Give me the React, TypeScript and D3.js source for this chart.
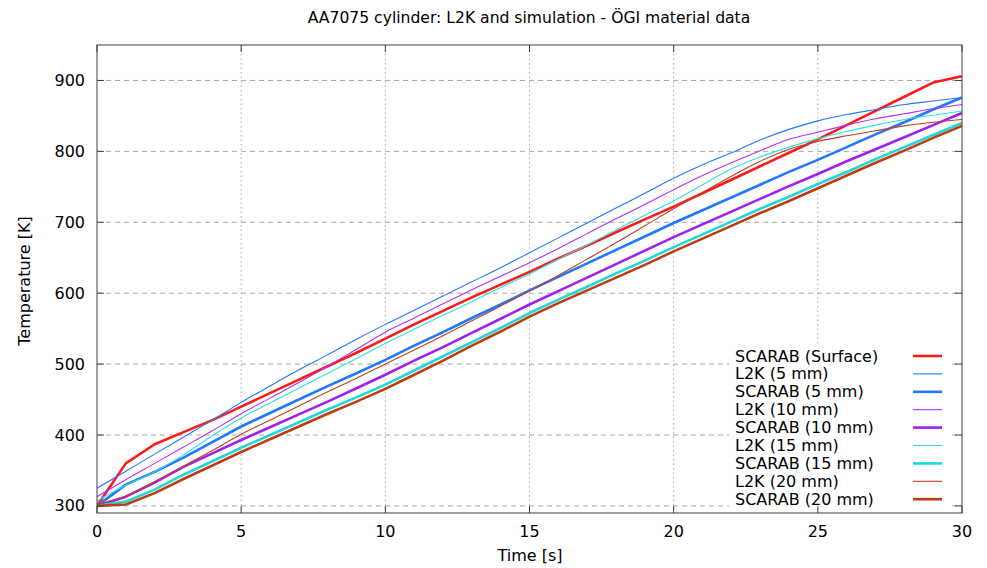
import React from 'react';
import * as d3 from 'd3';

// ---- data ----
const time = [0,1,2,3,4,5,6,7,8,9,10,11,12,13,14,15,16,17,18,19,20,21,22,23,24,25,26,27,28,29,30];

const scarabSurface = [300,360,387,404,421,440,459,478,497,516,536,556,575,594,612,630,649,667,686,704,722,741,760,779,798,817,837,857,877,897,906];
const l2k5 = [325,349,373,397,421,446,469,492,513,535,556,576,596,616,636,657,678,699,720,741,762,781,798,816,831,843,852,859,866,871,876];
const scarab5 = [300,330,348,368,390,412,431,450,469,487,506,526,545,565,584,604,623,642,661,680,699,717,735,753,771,788,806,824,841,859,876];
const l2k10 = [313,337,360,383,406,430,452,474,497,521,545,565,585,605,624,643,663,684,705,725,746,766,784,801,817,827,837,846,853,860,866];
const scarab10 = [300,313,333,355,374,393,411,429,447,466,485,505,524,544,564,584,603,622,641,660,679,697,715,733,751,768,786,803,820,837,854];
const l2k15 = [307,329,348,372,399,424,445,466,487,508,529,549,569,588,608,627,648,668,689,710,730,753,775,792,806,818,828,837,845,851,857];
const scarab15 = [300,306,323,344,363,382,400,418,436,453,471,491,511,531,551,572,591,609,628,646,665,683,701,719,736,754,771,789,806,823,840];
const l2k20 = [302,314,334,356,378,401,421,441,461,480,500,520,540,561,582,603,625,648,671,695,719,742,765,786,803,814,822,829,836,841,845];
const scarab20 = [300,302,318,338,357,376,394,412,430,447,465,485,505,526,546,567,586,604,622,640,659,677,695,713,730,748,766,784,801,819,836];

const xTicks = [0,5,10,15,20,25,30];
const yTicks = [300,400,500,600,700,800,900];

const seriesNames = ['SCARAB (Surface)','L2K (5 mm)','SCARAB (5 mm)','L2K (10 mm)','SCARAB (10 mm)','L2K (15 mm)','SCARAB (15 mm)','L2K (20 mm)','SCARAB (20 mm)'];
const seriesValues = [scarabSurface,l2k5,scarab5,l2k10,scarab10,l2k15,scarab15,l2k20,scarab20];
const seriesColors = ['#ff1a1a','#1f78ff','#1f78ff','#b030ff','#a020f0','#30e0e0','#20d8d8','#c04020','#c03c10'];
const seriesThick = [true,false,true,false,true,false,true,false,true];

const W = 987, H = 568;
const L = 97, R = 962, T = 45, B = 513;
const FONT = '"DejaVu Sans", sans-serif';

export default function App() {
  const x = d3.scaleLinear().domain([0, 30]).range([L, R]);
  const y = d3.scaleLinear().domain([290, 950]).range([B, T]);

  const lineLinear = d3.line<number>().x((_, i) => x(time[i])).y(d => y(d));
  const lineSmooth = d3.line<number>().x((_, i) => x(time[i])).y(d => y(d)).curve(d3.curveMonotoneX);

  const gridColor = '#a8a8a8';
  const axisColor = '#404040';
  const tickLen = 7;

  const legX = 735, legY0 = 356, legStep = 17.9;
  const fs = 16;

  return (
    <svg width={W} height={H} style={{ position: 'absolute', left: 0, top: 0, background: '#fff' }} fontFamily={FONT}>
      <rect x={0} y={0} width={W} height={H} fill="#fff" />
      <defs>
        <clipPath id="plotclip"><rect x={L} y={T} width={R - L} height={B - T} /></clipPath>
      </defs>
      {/* grid */}
      {yTicks.map(v => (
        <line key={'gy' + v} x1={L} x2={R} y1={y(v)} y2={y(v)} stroke={gridColor} strokeWidth={1} strokeDasharray="5,4" />
      ))}
      {xTicks.filter(v => v > 0 && v < 30).map(v => (
        <line key={'gx' + v} x1={x(v)} x2={x(v)} y1={T} y2={B} stroke={gridColor} strokeWidth={1} strokeDasharray="1.5,3" />
      ))}
      {/* series */}
      <g clipPath="url(#plotclip)">
        {seriesValues.map((vals, i) => (
          <path key={'s' + i} d={(seriesThick[i] ? lineLinear : lineSmooth)(vals) || ''} fill="none"
            stroke={seriesColors[i]} strokeWidth={seriesThick[i] ? 2.6 : 1.1} strokeLinejoin="round" />
        ))}
      </g>
      {/* legend (opaque) */}
      <rect x={729} y={345} width={222} height={162} fill="#fff" />
      {seriesNames.map((name, i) => (
        <g key={'lg' + i}>
          <text x={legX} y={legY0 + i * legStep + 5.5} fontSize={fs} fill="#000">{name}</text>
          <line x1={913} x2={942} y1={legY0 + i * legStep} y2={legY0 + i * legStep}
            stroke={seriesColors[i]} strokeWidth={seriesThick[i] ? 2.6 : 1.1} />
        </g>
      ))}
      {/* ticks */}
      {yTicks.map(v => (
        <g key={'ty' + v}>
          <line x1={L} x2={L + tickLen} y1={y(v)} y2={y(v)} stroke={axisColor} strokeWidth={1} />
          <line x1={R} x2={R - tickLen} y1={y(v)} y2={y(v)} stroke={axisColor} strokeWidth={1} />
          <text x={85} y={y(v) + 5.5} textAnchor="end" fontSize={fs} fill="#000">{v}</text>
        </g>
      ))}
      {xTicks.map(v => (
        <g key={'tx' + v}>
          <line x1={x(v)} x2={x(v)} y1={B} y2={B - tickLen} stroke={axisColor} strokeWidth={1} />
          <line x1={x(v)} x2={x(v)} y1={T} y2={T + tickLen} stroke={axisColor} strokeWidth={1} />
          <text x={x(v)} y={537} textAnchor="middle" fontSize={fs} fill="#000">{v}</text>
        </g>
      ))}
      {/* border */}
      <rect x={L} y={T} width={R - L} height={B - T} fill="none" stroke={axisColor} strokeWidth={1} />
      {/* labels */}
      <text x={529} y={23} textAnchor="middle" fontSize={15.6} fill="#000">AA7075 cylinder: L2K and simulation - ÖGI material data</text>
      <text x={530} y={561} textAnchor="middle" fontSize={fs} fill="#000">Time [s]</text>
      <text transform="translate(30,281) rotate(-90)" textAnchor="middle" fontSize={fs} fill="#000">Temperature [K]</text>
    </svg>
  );
}
